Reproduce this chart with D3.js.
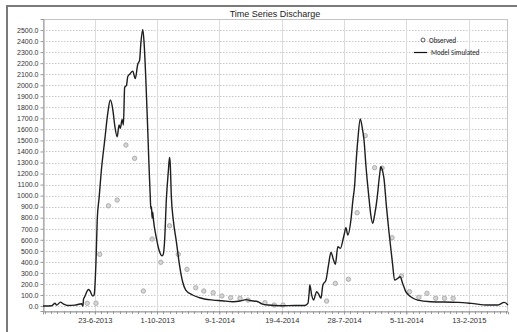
<!DOCTYPE html>
<html><head><meta charset="utf-8">
<script src="https://cdn.jsdelivr.net/npm/d3@7"></script>
<style>
html,body{margin:0;padding:0;background:#fff;}
svg{display:block;font-family:Arial,"Liberation Sans",sans-serif;}
</style></head>
<body><svg id="c" width="517" height="332"></svg>
<script>
const chartTitle = "Time Series Discharge";
const seriesNames = ["Observed", "Model Simulated"];
const yTicks = [0,100,200,300,400,500,600,700,800,900,1000,1100,1200,1300,1400,1500,1600,1700,1800,1900,2000,2100,2200,2300,2400,2500];
const xTickLabels = ["23-6-2013","1-10-2013","9-1-2014","19-4-2014","28-7-2014","5-11-2014","13-2-2015"];

const simDates = ["2013-04-01","2013-04-15","2013-04-20","2013-04-23","2013-04-29","2013-05-04","2013-05-11","2013-05-22","2013-06-02","2013-06-04","2013-06-05","2013-06-07","2013-06-13","2013-06-15","2013-06-20","2013-06-22","2013-06-25","2013-06-27","2013-06-30","2013-07-04","2013-07-09","2013-07-14","2013-07-18","2013-07-22","2013-07-25","2013-07-29","2013-08-01","2013-08-03","2013-08-06","2013-08-08","2013-08-10","2013-08-13","2013-08-15","2013-08-18","2013-08-23","2013-08-27","2013-08-31","2013-09-03","2013-09-05","2013-09-08","2013-09-10","2013-09-13","2013-09-16","2013-09-18","2013-09-20","2013-09-21","2013-09-22","2013-09-23","2013-09-24","2013-09-25","2013-09-30","2013-10-05","2013-10-09","2013-10-11","2013-10-13","2013-10-16","2013-10-19","2013-10-21","2013-10-22","2013-10-24","2013-10-27","2013-11-01","2013-11-06","2013-11-11","2013-11-16","2013-11-27","2013-12-08","2013-12-30","2014-01-13","2014-01-31","2014-02-11","2014-02-21","2014-02-27","2014-03-12","2014-03-18","2014-03-28","2014-04-18","2014-05-10","2014-05-26","2014-05-31","2014-06-02","2014-06-03","2014-06-06","2014-06-09","2014-06-14","2014-06-17","2014-06-21","2014-06-24","2014-06-29","2014-07-03","2014-07-07","2014-07-11","2014-07-14","2014-07-18","2014-07-22","2014-07-28","2014-07-31","2014-08-03","2014-08-08","2014-08-11","2014-08-14","2014-08-16","2014-08-19","2014-08-23","2014-08-26","2014-08-29","2014-09-01","2014-09-06","2014-09-09","2014-09-12","2014-09-15","2014-09-19","2014-09-23","2014-09-25","2014-09-27","2014-09-30","2014-10-04","2014-10-08","2014-10-14","2014-10-17","2014-10-22","2014-10-26","2014-10-30","2014-11-04","2014-11-12","2014-11-23","2014-12-14","2015-01-27","2015-02-17","2015-03-16","2015-04-01","2015-04-11","2015-04-17"];
const simValues = [0,2,25,8,35,18,5,8,20,0,60,85,150,140,90,100,400,780,980,1250,1500,1750,1866,1780,1640,1533,1640,1610,1690,1640,1980,2000,2080,2100,2128,2060,2190,2228,2380,2506,2400,2050,1600,1280,1000,880,900,800,850,790,613,492,455,470,582,976,1216,1345,1300,980,780,582,371,220,145,100,75,54,48,39,45,58,50,39,20,9,3,5,5,24,120,190,100,54,130,110,70,190,235,371,486,420,377,537,522,643,709,643,779,950,1096,1277,1500,1694,1620,1504,1277,975,820,749,824,975,1187,1262,1240,1157,900,673,371,235,250,265,205,130,84,54,39,33,24,9,9,33,9];

const obsDates = ["2013-06-11","2013-06-25","2013-07-01","2013-07-15","2013-07-29","2013-08-12","2013-08-26","2013-09-09","2013-09-23","2013-10-07","2013-10-21","2013-11-04","2013-11-18","2013-12-02","2013-12-15","2013-12-30","2014-01-13","2014-01-27","2014-02-11","2014-02-24","2014-03-23","2014-04-07","2014-04-21","2014-06-30","2014-07-14","2014-08-04","2014-08-18","2014-08-31","2014-09-15","2014-09-27","2014-10-13","2014-10-28","2014-11-10","2014-11-25","2014-12-08","2014-12-22","2015-01-05","2015-01-19"];
const obsValues = [25,25,468,908,960,1458,1338,136,607,396,727,468,332,166,136,120,91,75,70,54,30,9,9,45,205,242,845,1543,1253,1250,619,272,130,79,115,70,70,70];

const parse = d3.timeParse("%Y-%m-%d");
const parseTick = d3.timeParse("%d-%m-%Y");
const sim = simDates.map((d,i)=>({date:parse(d), v:simValues[i]}));
const obs = obsDates.map((d,i)=>({date:parse(d), v:obsValues[i]}));

const svg = d3.select("#c");
const L=43, R=508, T=19, B=311;

const x = d3.scaleTime().domain([parse("2013-04-01"), parse("2015-04-17")]).range([L,R]);
const y = d3.scaleLinear().domain([-45,2600]).range([B,T]);

// outer frame
svg.append("path").attr("d",`M7,340 V6 H530`).attr("fill","none").attr("stroke","#7a7a7a").attr("stroke-width",2);

// title
svg.append("text").attr("x",275).attr("y",16.5).attr("text-anchor","middle")
  .attr("font-size",9).attr("fill","#222").text(chartTitle);

// horizontal dotted grid
svg.append("g").selectAll("line").data(yTicks).join("line")
  .attr("x1",L).attr("x2",R).attr("y1",d=>Math.round(y(d))+0.5).attr("y2",d=>Math.round(y(d))+0.5)
  .attr("stroke","#c8c8c8").attr("stroke-width",1).attr("stroke-dasharray","1.5,1.5");

// vertical grid at major ticks
const majorDates = xTickLabels.map(s=>parseTick(s));
svg.append("g").selectAll("line").data(majorDates).join("line")
  .attr("x1",d=>Math.round(x(d))+0.5).attr("x2",d=>Math.round(x(d))+0.5).attr("y1",T).attr("y2",B)
  .attr("stroke","#dcdcdc").attr("stroke-width",1);

// plot border
svg.append("rect").attr("x",L+0.5).attr("y",T+0.5).attr("width",R-L-1).attr("height",B-T)
  .attr("fill","none").attr("stroke","#c4c4c4");

// y axis
const yAxis = d3.axisLeft(y).tickValues(yTicks).tickFormat(d3.format(".1f")).tickSize(3).tickPadding(2);
const gy = svg.append("g").attr("transform",`translate(${L+0.5},0)`).call(yAxis);
gy.select(".domain").attr("stroke","#999");
gy.selectAll(".tick line").attr("stroke","#999");
gy.selectAll("text").attr("font-size",7).attr("fill","#333").attr("font-family","Arial,'Liberation Sans',sans-serif");

// x axis: minor ticks every 10 days, major labels every 100 days
const minorTicks = d3.timeDay.range(parse("2013-04-04"), parse("2015-04-17"), 1).filter(d=>Math.round((d - majorDates[0])/864e5) % 10 === 0);
svg.append("g").selectAll("line").data(minorTicks).join("line")
  .attr("x1",d=>Math.round(x(d))+0.5).attr("x2",d=>Math.round(x(d))+0.5).attr("y1",B).attr("y2",B+3)
  .attr("stroke","#999");
const xAxis = d3.axisBottom(x).tickValues(majorDates).tickFormat((d,i)=>xTickLabels[i]).tickSize(3).tickPadding(3);
const gx = svg.append("g").attr("transform",`translate(0,${B+0.5})`).call(xAxis);
gx.select(".domain").attr("stroke","#999");
gx.selectAll(".tick line").attr("stroke","#999");
gx.selectAll("text").attr("font-size",7.5).attr("fill","#333").attr("font-family","Arial,'Liberation Sans',sans-serif");

// observed points
svg.append("g").selectAll("circle").data(obs).join("circle")
  .attr("cx",d=>x(d.date)).attr("cy",d=>y(d.v)).attr("r",2.2)
  .attr("fill","#d6d6d6").attr("stroke","#a8a8a8").attr("stroke-width",0.9);

// simulated line
const line = d3.line().x(d=>x(d.date)).y(d=>y(d.v)).curve(d3.curveMonotoneX);
svg.append("path").datum(sim).attr("d",line).attr("fill","none")
  .attr("stroke","#1e1e1e").attr("stroke-width",1.4).attr("stroke-linejoin","round");

// legend
const lg = svg.append("g").attr("font-family","Calibri,Carlito,'Liberation Sans Narrow',Arial,sans-serif").attr("font-size",7).attr("fill","#222");
lg.append("circle").attr("cx",423).attr("cy",40).attr("r",2).attr("fill","none").attr("stroke","#333").attr("stroke-width",0.8);
lg.append("text").attr("x",429).attr("y",42.5).text(seriesNames[0]);
lg.append("line").attr("x1",414).attr("x2",427).attr("y1",52.5).attr("y2",52.5).attr("stroke","#111").attr("stroke-width",1.2);
lg.append("text").attr("x",431).attr("y",55).text(seriesNames[1]);
</script></body></html>
